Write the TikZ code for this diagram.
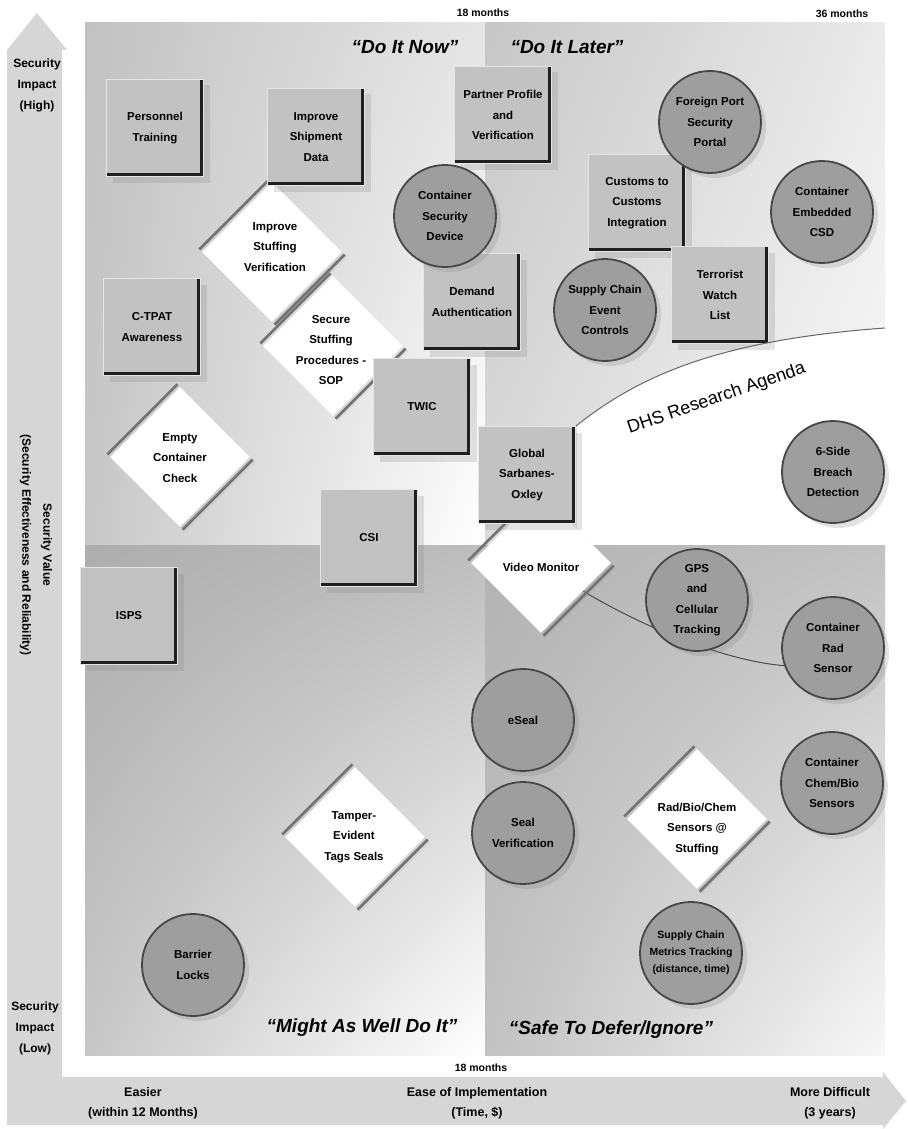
\documentclass[tikz,border=0pt]{standalone}
\usepackage{fontspec}
\setmainfont{Liberation Sans}
\usetikzlibrary{shapes.geometric,shadows,shadings,calc}
\pgfdeclarelayer{bg}\pgfdeclarelayer{mid}\pgfsetlayers{bg,mid,main}
\newcommand\mynf{\fontsize{11.5}{20.5}\selectfont\bfseries}
\newcommand\mydiaedges[1]{%
  \draw[diaedge] ([shift={(-2.5,-2.5)}]#1.west) -- ([shift={(-2.5,-2.5)}]#1.north);
  \draw[diaedge] ([shift={(2.5,2.5)}]#1.east) -- ([shift={(2.5,2.5)}]#1.south);}
\begin{document}
\begin{tikzpicture}[x=1pt,y=-1pt,
  bx/.style={rectangle, minimum width=97pt, minimum height=97pt, inner sep=1pt,
    fill=black!24, draw=black!10, line width=1pt, align=center, font=\mynf,
    drop shadow={shadow xshift=6pt, shadow yshift=-6pt, opacity=0.22},
    path picture={\draw[black!88, line width=8pt]
      (path picture bounding box.north east) -- (path picture bounding box.south east)
      -- (path picture bounding box.south west);}},
  circ/.style={circle, minimum size=102pt, inner sep=0pt, fill=black!38,
    draw=black!72, line width=1.8pt, align=center, font=\mynf,
    drop shadow={shadow xshift=5pt, shadow yshift=-5pt, opacity=0.22}},
  dia/.style={diamond, aspect=1, minimum width=140pt, minimum height=140pt,
    inner sep=0pt, fill=white,
    drop shadow={shadow xshift=5pt, shadow yshift=-5pt, opacity=0.12}},
  dialab/.style={align=center, font=\mynf, inner sep=0pt},
  diaedge/.style={line width=2.6pt, draw=black!55},
  quad/.style={font=\fontsize{19}{22}\selectfont\bfseries\itshape, inner sep=0pt},
  axl/.style={font=\fontsize{12}{21}\selectfont\bfseries, align=center, inner sep=0pt},
  botl/.style={font=\fontsize{12.5}{20}\selectfont\bfseries, align=center, inner sep=0pt},
  sml/.style={font=\fontsize{10.5}{12}\selectfont\bfseries, inner sep=0pt},
  link/.style={draw=black!70, line width=1pt}]
\useasboundingbox (0,0) rectangle (907,1129);

% ---------- background ----------
\begin{pgfonlayer}{bg}
\fill[white] (0,0) rectangle (907,1129);
\fill[black!16] (37,13) -- (67,50) -- (62,50) -- (62,1077) -- (883,1077) -- (883,1072)
  -- (906,1101) -- (883,1129) -- (883,1125) -- (7,1125) -- (7,50) -- cycle;
\shade[upper left=black!24, upper right=black!10, lower left=black!22, lower right=white]
  (85,23) rectangle (485,545);
\shade[upper left=black!22, upper right=black!8, lower left=black!14, lower right=black!2]
  (485,23) rectangle (885,545);
\fill[white] (577,425) .. controls (640,375) and (720,340) .. (885,328)
  -- (885,545) -- (577,545) -- cycle;
\shade[upper left=black!32, upper right=black!26, lower left=black!22, lower right=white]
  (85,545) rectangle (485,1055);
\shade[upper left=black!30, upper right=black!24, lower left=black!24, lower right=black!3]
  (485,545) rectangle (885,1055);
\end{pgfonlayer}

% ---------- axis labels ----------
\node[sml] (m18top) at (483,13) {18 months};
\node[sml] (m36top) at (842,14) {36 months};
\node[sml] (m18bot) at (481,1068) {18 months};
\node[axl] (yhigh) at (37,85) {Security\\Impact\\(High)};
\node[axl] (ylow) at (35,1028) {Security\\Impact\\(Low)};
\node[axl, rotate=-90] (yval) at (36,545) {Security Value\\(Security Effectiveness and Reliability)};
\node[botl] (xeasy) at (143,1103) {Easier\\(within 12 Months)};
\node[botl] (xmid) at (477,1103) {Ease of Implementation\\(Time, \$)};
\node[botl] (xhard) at (830,1103) {More Difficult\\(3 years)};

% ---------- quadrant titles ----------
\node[quad] (qnow) at (405,47) {“Do It Now”};
\node[quad] (qlater) at (567,47) {“Do It Later”};
\node[quad] (qmight) at (362,1028) {“Might As Well Do It”};
\node[quad] (qsafe) at (611,1030) {“Safe To Defer/Ignore”};

% ---------- diamonds ----------
\node[dia] (isv) at (272,252) {};
\mydiaedges{isv}
\node[dialab] (isvt) at (275,247) {Improve\\Stuffing\\Verification};
\node[dia] (ssp) at (333,346) {};
\mydiaedges{ssp}
\node[dialab] (sspt) at (331,350) {Secure\\Stuffing\\Procedures -\\SOP};
\node[dia] (ecc) at (180,457) {};
\mydiaedges{ecc}
\node[dialab] (ecct) at (180,458) {Empty\\Container\\Check};
\node[dia] (vm) at (541,563) {};
\mydiaedges{vm}
\node[dialab] (vmt) at (541,567) {Video Monitor};
\node[dia] (tes) at (355,837) {};
\mydiaedges{tes}
\node[dialab] (test) at (354,837) {Tamper-\\Evident\\Tags Seals};
\node[dia] (rbc) at (697,819) {};
\mydiaedges{rbc}
\node[dialab] (rbct) at (697,829) {Rad/Bio/Chem\\Sensors @\\Stuffing};

% ---------- boxes ----------
\node[bx] (pt) at (155,128) {Personnel\\Training};
\node[bx] (isd) at (316,137) {Improve\\Shipment\\Data};
\node[bx] (ppv) at (503,115) {Partner Profile\\and\\Verification};
\node[bx] (cci) at (637,203) {Customs to\\Customs\\Integration};
\node[bx] (twl) at (720,295) {Terrorist\\Watch\\List};
\node[bx] (da) at (472,302) {Demand\\Authentication};
\node[bx] (ctpat) at (152,327) {C-TPAT\\Awareness};
\node[bx] (twic) at (422,407) {TWIC};
\node[bx] (csi) at (369,538) {CSI};
\node[bx] (gso) at (527,475) {Global\\Sarbanes-\\Oxley};
\node[bx] (isps) at (129,616) {ISPS};

% ---------- circles ----------
\node[circ] (fpsp) at (710,122) {Foreign Port\\Security\\Portal};
\node[circ] (csd) at (445,216) {Container\\Security\\Device};
\node[circ] (cecsd) at (822,212) {Container\\Embedded\\CSD};
\node[circ] (scec) at (605,310) {Supply Chain\\Event\\Controls};
\node[circ] (sbd) at (833,472) {6-Side\\Breach\\Detection};
\node[circ] (gps) at (697,600) {GPS\\and\\Cellular\\Tracking};
\node[circ] (crs) at (833,648) {Container\\Rad\\Sensor};
\node[circ] (eseal) at (523,720) {eSeal};
\node[circ] (sv) at (523,833) {Seal\\Verification};
\node[circ] (ccbs) at (832,783) {Container\\Chem/Bio\\Sensors};
\node[circ, font=\fontsize{10.5}{17}\selectfont\bfseries] (scmt) at (691,953)
  {Supply Chain\\Metrics Tracking\\(distance, time)};
\node[circ] (bl) at (193,965) {Barrier\\Locks};

% ---------- connectors ----------
\coordinate (dhsend) at (885,328);
\draw[link, draw=black!60] (gso.north east) .. controls (640,375) and (720,340) .. (dhsend);
\begin{pgfonlayer}{mid}
\draw[link] ($(vm.east)!0.4!(vm.south)$) .. controls (640,625) and (720,660) .. (crs.200);
\end{pgfonlayer}
\node[anchor=base, rotate=19, inner sep=0pt, font=\fontsize{18}{18}\selectfont]
  (dhs) at (718,403) {DHS Research Agenda};
\end{tikzpicture}
\end{document}
